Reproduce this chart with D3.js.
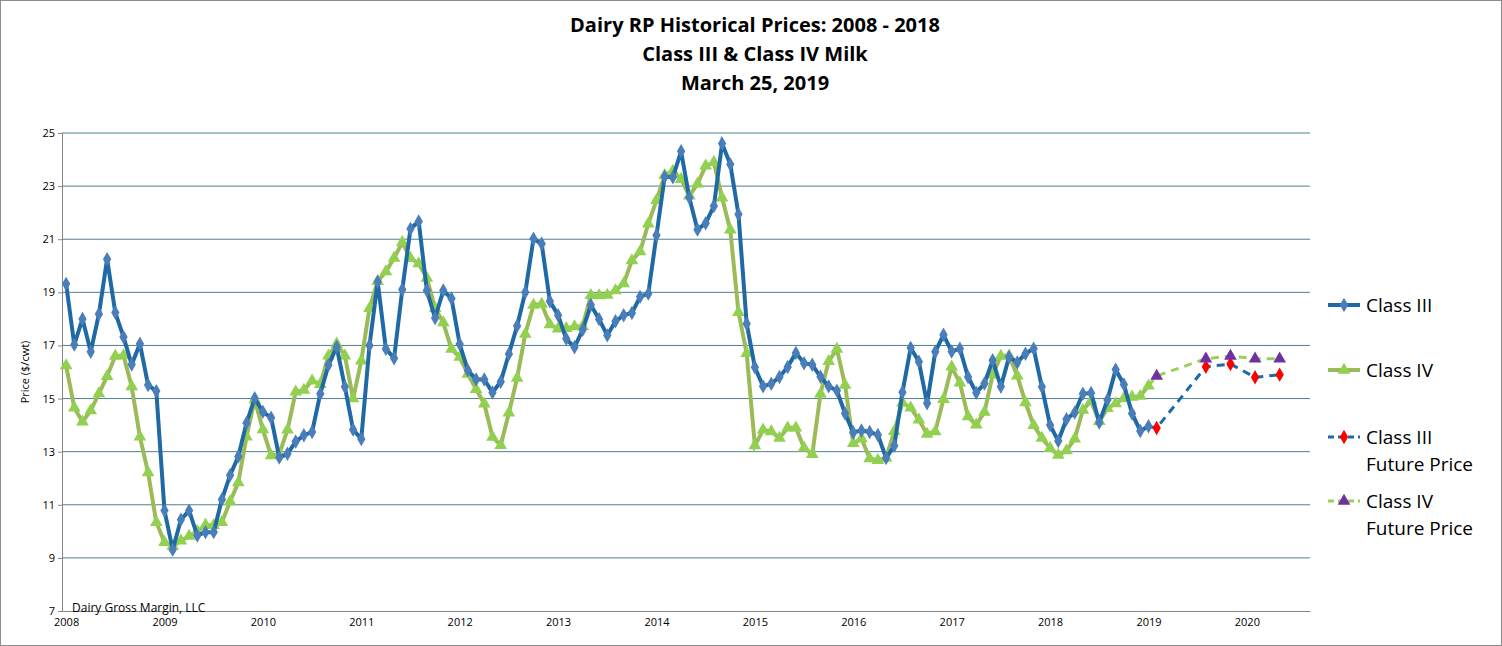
<!DOCTYPE html><html><head><meta charset="utf-8"><script src="https://cdn.jsdelivr.net/npm/d3@7"></script>
<style>body{margin:0;background:#fff}text{font-family:"Open Sans","Liberation Sans",Arial,sans-serif}</style></head><body>
<svg id="c" width="1502" height="646"></svg>
<script>
const years=["2008","2009","2010","2011","2012","2013","2014","2015","2016","2017","2018","2019","2020"];
const yTicks=[7,9,11,13,15,17,19,21,23,25];
const classIII=[19.32,17.03,18.00,16.76,18.18,20.25,18.24,17.32,16.28,17.06,15.51,15.28,
10.78,9.31,10.44,10.78,9.84,9.97,9.97,11.20,12.11,12.82,14.08,15.01,
14.50,14.28,12.78,12.92,13.38,13.62,13.74,15.18,16.26,16.94,15.44,13.83,
13.48,17.00,19.40,16.87,16.52,19.11,21.39,21.67,19.07,18.03,19.07,18.77,
17.05,16.06,15.72,15.72,15.23,15.63,16.68,17.73,19.00,21.02,20.83,18.66,
18.14,17.25,16.93,17.59,18.52,17.99,17.38,17.91,18.14,18.22,18.83,18.95,
21.15,23.35,23.33,24.31,22.57,21.36,21.60,22.25,24.60,23.82,21.94,17.82,
16.18,15.46,15.56,15.81,16.19,16.72,16.33,16.27,15.82,15.46,15.30,14.44,
13.72,13.80,13.74,13.63,12.76,13.22,15.24,16.91,16.39,14.82,16.76,17.40,
16.77,16.88,15.81,15.22,15.57,16.44,15.45,16.57,16.36,16.69,16.88,15.44,
14.00,13.40,14.22,14.47,15.18,15.21,14.10,14.95,16.09,15.53,14.44,13.78,
13.96];
const classIV=[16.24,14.65,14.12,14.55,15.19,15.84,16.60,16.62,15.45,13.56,12.21,10.34,
9.59,9.44,9.64,9.82,10.00,10.24,10.23,10.34,11.12,11.84,13.56,14.96,
13.83,12.85,12.92,13.82,15.25,15.32,15.67,15.54,16.61,17.06,16.61,15.00,
16.42,18.40,19.41,19.78,20.29,20.88,20.28,20.08,19.54,18.40,17.86,16.86,
16.56,15.92,15.35,14.80,13.55,13.24,14.46,15.77,17.43,18.52,18.56,17.79,
17.63,17.64,17.71,17.72,18.89,18.88,18.90,19.07,19.33,20.20,20.53,21.58,
22.46,23.41,23.57,23.26,22.63,23.09,23.76,23.90,22.56,21.35,18.25,16.70,
13.23,13.82,13.76,13.51,13.90,13.90,13.14,12.90,15.18,16.40,16.86,15.51,
13.31,13.49,12.74,12.67,12.76,13.77,14.84,14.65,14.20,13.66,13.76,14.97,
16.19,15.59,14.32,14.01,14.49,15.89,16.60,16.61,15.86,14.85,13.99,13.51,
13.13,12.87,13.04,13.48,14.57,14.91,14.14,14.63,14.81,15.01,15.06,15.09,
15.48];
const futureMonths=[133,139,142,145,148];
const futIII=[13.89,16.2,16.3,15.8,15.9];
const futIV=[15.85,16.5,16.6,16.5,16.5];

const svg=d3.select("#c");
svg.append("rect").attr("x",0.5).attr("y",0.5).attr("width",1501).attr("height",645).attr("fill","#fff").attr("stroke","#8c8c8c");
const x=d3.scaleLinear().domain([-0.5,151.7]).range([62,1310]);
const y=d3.scaleLinear().domain([7,25]).range([611,133]);
const g=svg.append("g");
g.selectAll(".gl").data(yTicks.slice(1)).join("line").attr("x1",62).attr("x2",1310).attr("y1",d=>y(d)).attr("y2",d=>y(d)).attr("stroke","#4f7f8f").attr("stroke-width",1);
const ya=d3.axisLeft(y).tickValues(yTicks).tickSize(4).tickFormat(d3.format("d"));
const yg=svg.append("g").attr("transform","translate(62,0)").call(ya);
yg.select(".domain").attr("stroke","#868686");yg.selectAll(".tick line").attr("stroke","#868686");
yg.selectAll("text").attr("font-size",11).attr("fill","#000");
const xa=d3.axisBottom(x).tickValues(years.map((d,i)=>i*12)).tickFormat((d,i)=>years[i]).tickSize(0).tickPadding(7);
const xg=svg.append("g").attr("transform","translate(0,611)").call(xa);
xg.select(".domain").attr("stroke","#868686");xg.selectAll("text").attr("font-size",11).attr("fill","#000");
svg.append("text").attr("transform","translate(29,372) rotate(-90)").attr("text-anchor","middle").attr("font-size",11).text("Price ($/cwt)");

const line=d3.line().x(d=>x(d[0])).y(d=>y(d[1]));
const dIV=classIV.map((v,i)=>[i,v]), dIII=classIII.map((v,i)=>[i,v]);
const fIII=[[132,classIII[132]]].concat(futureMonths.map((m,i)=>[m,futIII[i]]));
const fIV=[[132,classIV[132]]].concat(futureMonths.map((m,i)=>[m,futIV[i]]));
svg.append("path").attr("d",line(fIII)).attr("fill","none").attr("stroke","#1f6aa5").attr("stroke-width",3).attr("stroke-dasharray","8,6");
svg.append("path").attr("d",line(fIV)).attr("fill","none").attr("stroke","#9bcf5a").attr("stroke-width",3).attr("stroke-dasharray","8,6");
const tri=d3.symbol().type(d3.symbolTriangle).size(70), dia=d3.symbol().type(d3.symbolDiamond).size(60);
svg.append("path").attr("d",line(dIV)).attr("fill","none").attr("stroke","#9bbb59").attr("stroke-width",4);
svg.selectAll(".t4").data(dIV).join("path").attr("d",tri).attr("transform",d=>`translate(${x(d[0])},${y(d[1])})`).attr("fill","#92d050");
svg.append("path").attr("d",line(dIII)).attr("fill","none").attr("stroke","#1f6aa5").attr("stroke-width",4);
svg.selectAll(".d3m").data(dIII).join("path").attr("d",dia).attr("transform",d=>`translate(${x(d[0])},${y(d[1])})`).attr("fill","#4a7ebb");
svg.selectAll(".fr").data(futureMonths.map((m,i)=>[m,futIII[i]])).join("path").attr("d",dia).attr("transform",d=>`translate(${x(d[0])},${y(d[1])})`).attr("fill","#ff0000");
svg.selectAll(".fp").data(futureMonths.map((m,i)=>[m,futIV[i]])).join("path").attr("d",tri).attr("transform",d=>`translate(${x(d[0])},${y(d[1])})`).attr("fill","#7030a0");

const title=["Dairy RP Historical Prices: 2008 - 2018","Class III & Class IV Milk","March 25, 2019"];
svg.selectAll(".ti").data(title).join("text").attr("x",755).attr("y",(d,i)=>32+i*29).attr("text-anchor","middle").attr("font-size",20).attr("font-weight","bold").text(d=>d);
svg.append("text").attr("x",72).attr("y",612).attr("font-size",12).text("Dairy Gross Margin, LLC");

const leg=[{t:["Class III"],y:305,c:"#1f6aa5",m:"#4a7ebb",s:dia,dash:null},
{t:["Class IV"],y:370,c:"#9bbb59",m:"#92d050",s:tri,dash:null},
{t:["Class III","Future Price"],y:437,c:"#1f6aa5",m:"#ff0000",s:dia,dash:"6,4"},
{t:["Class IV","Future Price"],y:501,c:"#9bcf5a",m:"#7030a0",s:tri,dash:"6,4"}];
leg.forEach(l=>{
 svg.append("line").attr("x1",1328).attr("x2",1360).attr("y1",l.y).attr("y2",l.y).attr("stroke",l.c).attr("stroke-width",l.dash?3:4).attr("stroke-dasharray",l.dash);
 svg.append("path").attr("d",l.s).attr("transform",`translate(1344,${l.y})`).attr("fill",l.m);
 l.t.forEach((t,i)=>svg.append("text").attr("x",1366).attr("y",l.y+7+i*27).attr("font-size",19).text(t));
});
</script></body></html>
